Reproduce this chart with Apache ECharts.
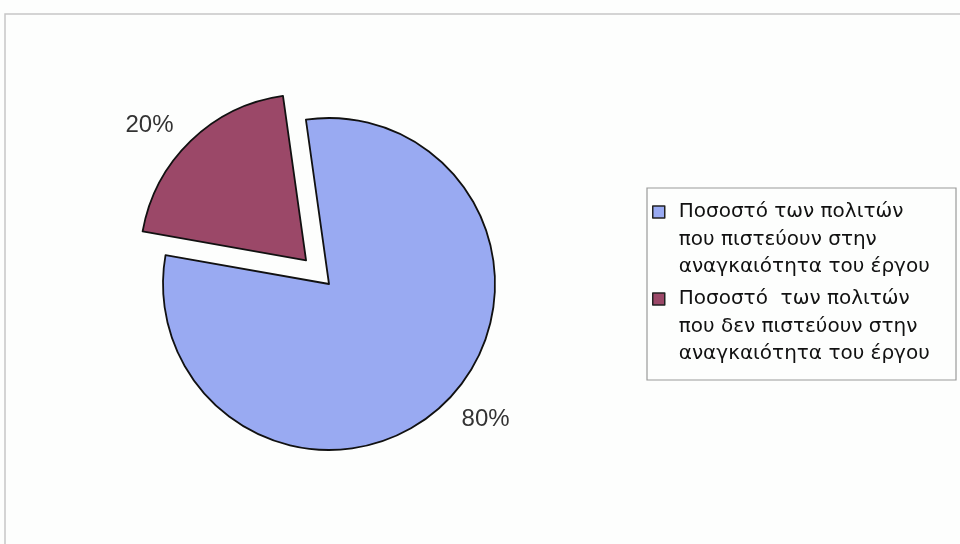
<!DOCTYPE html>
<html>
<head>
<meta charset="utf-8">
<style>
  html, body { margin: 0; padding: 0; background: #fdfefd; }
  #chart { width: 960px; height: 544px; }
</style>
<script src="https://cdn.jsdelivr.net/npm/echarts@6/dist/echarts.min.js"></script>
</head>
<body>
<div id="chart"></div>
<script>
// Survey share of citizens on the necessity of the project
const categories = [
  'Ποσοστό των πολιτών\nπου πιστεύουν στην\nαναγκαιότητα του έργου',
  'Ποσοστό  των πολιτών\nπου δεν πιστεύουν στην\nαναγκαιότητα του έργου'
];
const values = [80, 20];
const colors = ['#99aaf2', '#9b4868'];

const LINE_H = 27.5;
const FONT = '"Liberation Sans", Arial, Helvetica, sans-serif';

const chart = echarts.init(document.getElementById('chart'), null, { renderer: 'canvas' });

chart.setOption({
  animation: false,
  backgroundColor: '#fdfefd',
  graphic: [
    {
      // outer frame
      type: 'rect', silent: true, z: 0,
      shape: { x: 5, y: 14, width: 970, height: 560 },
      style: { fill: 'none', stroke: '#c6c6c6', lineWidth: 1.5 }
    },
    {
      // legend box
      type: 'rect', silent: true, z: 0,
      shape: { x: 647, y: 188, width: 309, height: 192 },
      style: { fill: 'none', stroke: '#9a9a9a', lineWidth: 1.2 }
    }
  ],
  legend: {
    orient: 'vertical',
    left: 652,
    top: 212 - 2.5 * LINE_H,
    padding: 0,
    itemWidth: 12,
    itemHeight: 12,
    itemGap: 87 - 5 * LINE_H,
    selectedMode: false,
    icon: 'rect',
    itemStyle: { borderColor: '#222', borderWidth: 1.5 },
    // two blank lines on top keep the marker level with the first text line
    formatter: name => '\n\n' + name,
    textStyle: {
      fontFamily: '"DejaVu Sans", Verdana, sans-serif',
      fontSize: 20,
      color: '#111',
      lineHeight: LINE_H,
      padding: [0, 0, 0, 9]
    },
    data: categories
  },
  series: [{
    type: 'pie',
    center: [329, 284],
    radius: 166,
    startAngle: 98,
    clockwise: true,
    avoidLabelOverlap: false,
    selectedMode: 'single',
    selectedOffset: 33,
    emphasis: { disabled: true },
    itemStyle: { borderColor: '#111', borderWidth: 1.8 },
    label: {
      show: true,
      position: 'outside',
      formatter: '{d}%',
      fontFamily: FONT,
      fontSize: 24,
      color: '#333',
      distanceToLabelLine: 2
    },
    labelLine: { show: false, length: 22, length2: 0 },
    data: categories.map((name, i) => ({
      name: name,
      value: values[i],
      selected: i === 1,
      itemStyle: { color: colors[i] }
    }))
  }]
});
</script>
</body>
</html>
